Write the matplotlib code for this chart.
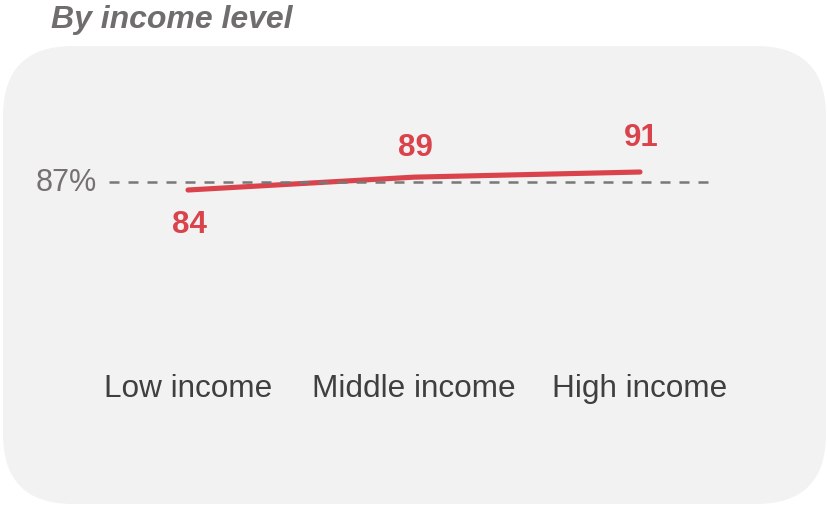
import matplotlib.pyplot as plt
from matplotlib.patches import FancyBboxPatch

plt.rcParams['font.family'] = ['Liberation Sans', 'DejaVu Sans']

# data
categories = ["Low income", "Middle income", "High income"]
values = [84, 89, 91]
average = 87
title = "By income level"

red = "#da434b"
grey = "#767171"

fig = plt.figure(figsize=(8.28, 5.06), dpi=100)

# rounded grey panel behind the chart (inch coords, 100 px per inch)
panel = FancyBboxPatch((0.03, 0.01), 8.23, 4.58,
                       boxstyle="round,pad=0,rounding_size=0.7",
                       transform=fig.dpi_scale_trans,
                       facecolor="#f2f2f2", edgecolor="none", zorder=-5)
fig.patches.append(panel)

fig.text(51 / 828, 1 - 28 / 506, title, fontsize=23, fontweight="bold",
         fontstyle="italic", color="#6f6d6d", va="baseline", ha="left")

# axes spans pixel rows 63..363 over the whole width
ax = fig.add_axes([0, 143 / 506, 1, 300 / 506])
ax.set_facecolor("none")
ax.set_zorder(1)
x = list(range(len(categories)))

ax.plot(x, values, color=red, lw=3.7, solid_capstyle="round", zorder=2)
ax.plot([-0.35, 2.33], [average, average], color="#7a7777", lw=1.8,
        dashes=(4.0, 3.6), zorder=3)
ax.annotate(f"{average}%", (-0.35, average), xytext=(-9, 0),
            textcoords="offset points", ha="right", va="center",
            fontsize=22, color=grey)

offsets = [-24.5, 21.5, 25]
for xi, v, off in zip(x, values, offsets):
    ax.annotate(str(v), (xi, v), xytext=(1, off), textcoords="offset points",
                ha="center", va="center", fontsize=22.5, fontweight="bold",
                color=red)

ax.set_xlim(-188 / 226, 640 / 226)
ax.set_ylim(84 - 172 / 2.57, 84 + 128 / 2.57)
ax.set_xticks(x)
ax.set_xticklabels(categories, fontsize=22.7, color="#3f3f3f")
ax.tick_params(axis="x", length=0, pad=8)
ax.set_yticks([])
for s in ax.spines.values():
    s.set_visible(False)

fig.savefig("out.png", dpi=100)
